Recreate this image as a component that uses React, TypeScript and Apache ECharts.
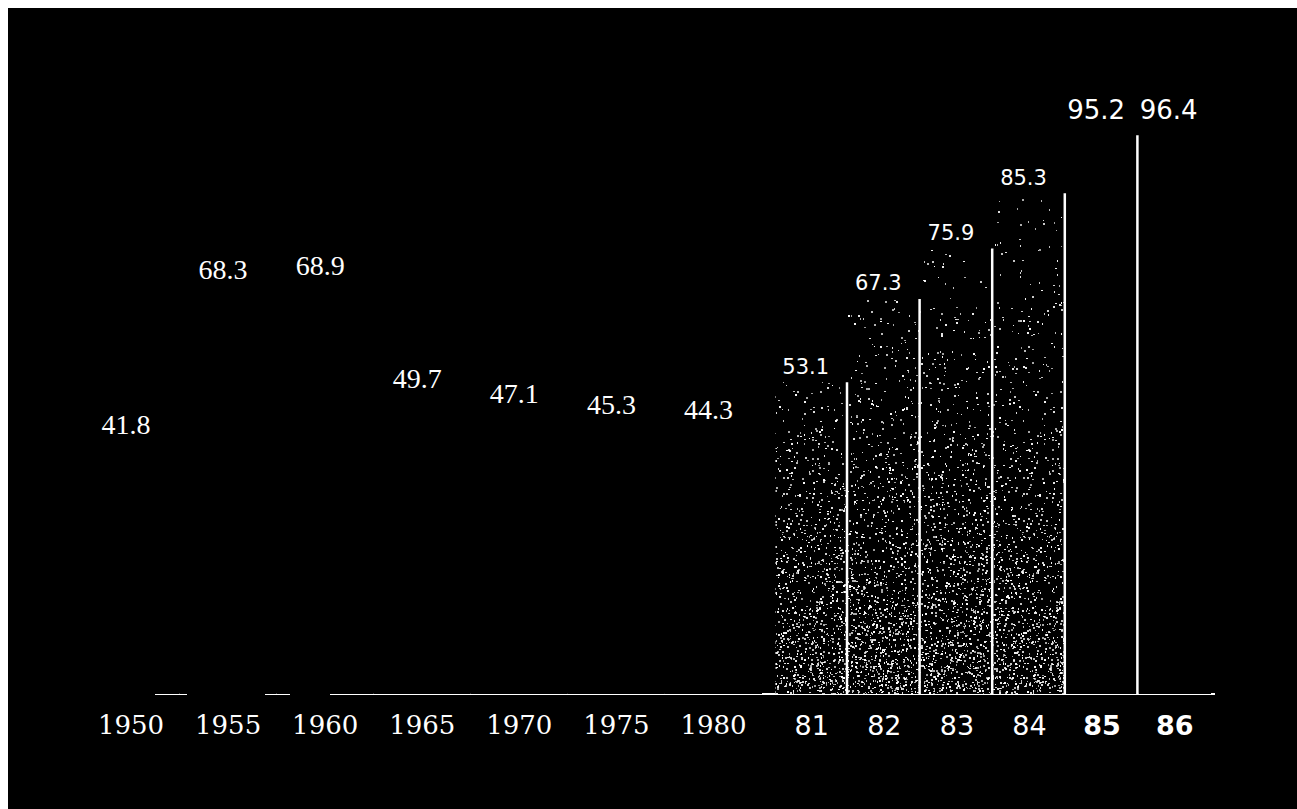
import React, { useEffect, useRef } from "react";
import * as echarts from "echarts";

// ---- data ----
const yearsEarly = ["1950", "1955", "1960", "1965", "1970", "1975", "1980"];
const valuesEarly = [41.8, 68.3, 68.9, 49.7, 47.1, 45.3, 44.3];
const yearsLate = ["81", "82", "83", "84", "85", "86"];
const valuesLate = [53.1, 67.3, 75.9, 85.3, 95.2, 96.4];

const W = 1289;
const H = 801;

// deterministic speckle texture (decoration only)
function makeSpeckle(w: number, h: number): string {
  const c = document.createElement("canvas");
  c.width = w;
  c.height = h;
  const ctx = c.getContext("2d");
  if (!ctx) return "";
  ctx.fillStyle = "#000";
  ctx.fillRect(0, 0, w, h);
  let s = 987654;
  const rnd = () => {
    s = (s * 16807) % 2147483647;
    return s / 2147483647;
  };
  for (let y = 0; y < h; y += 2) {
    const t = Math.max(0, Math.min(1, (y - 190) / 496));
    const p = 0.02 + 0.32 * Math.pow(t, 2);
    for (let x = 0; x < w; x += 2) {
      if (rnd() < p) {
        const a = 0.6 + 0.4 * rnd();
        ctx.fillStyle = `rgba(255,255,255,${a.toFixed(2)})`;
        const ox = rnd() < 0.5 ? 0 : 1;
        const oy = rnd() < 0.5 ? 0 : 1;
        ctx.fillRect(x + ox, y + oy, rnd() < 0.6 ? 2 : 1, rnd() < 0.6 ? 2 : 1);
      }
    }
  }
  return c.toDataURL();
}

export default function App() {
  const ref = useRef<HTMLDivElement>(null);

  useEffect(() => {
    if (!ref.current) return;
    const chart = echarts.init(ref.current, null, { renderer: "svg" });
    const speckle = {
      image: makeSpeckle(240, H),
      repeat: "repeat",
      imageWidth: 240,
      imageHeight: H,
    };

    const gridTop = 99;
    const gridBottom = 115;

    const lateData = valuesLate.map((v, i) => ({
      value: v,
      itemStyle: { color: i < 4 ? (speckle as any) : "#000" },
      label:
        i >= 4
          ? { fontSize: 26, distance: i === 4 ? 12 : 5 }
          : { fontSize: 21, distance: 5 },
    }));

    const option: any = {
      animation: false,
      backgroundColor: "#000",
      grid: [
        { left: 74.5, width: 679.5, top: gridTop, bottom: gridBottom },
        { left: 767.4, width: 435.6, top: gridTop, bottom: gridBottom },
      ],
      xAxis: [
        {
          type: "category",
          gridIndex: 0,
          data: yearsEarly,
          axisLine: { show: false },
          axisTick: { show: false },
          axisLabel: {
            color: "#fff",
            fontFamily: "DejaVu Serif",
            fontSize: 26,
            margin: 18,
          },
        },
        {
          type: "category",
          gridIndex: 1,
          data: yearsLate,
          axisLine: { show: false },
          axisTick: { show: false },
          axisLabel: {
            margin: 18,
            formatter: (v: string, i: number) => (i >= 4 ? `{b|${v}}` : `{n|${v}}`),
            rich: {
              n: { color: "#fff", fontFamily: "DejaVu Sans", fontSize: 27 },
              b: { color: "#fff", fontFamily: "DejaVu Sans", fontSize: 27, fontWeight: "bold" },
            },
          },
        },
      ],
      yAxis: [
        { type: "value", gridIndex: 0, min: 0, max: 100, show: false, splitLine: { show: false } },
        { type: "value", gridIndex: 1, min: 0, max: 100, show: false, splitLine: { show: false } },
      ],
      series: [
        {
          type: "bar",
          xAxisIndex: 0,
          yAxisIndex: 0,
          data: valuesEarly,
          barCategoryGap: "0%",
          itemStyle: { color: "#000" },
          label: {
            show: true,
            position: "top",
            distance: 10,
            offset: [-5, 0],
            color: "#fff",
            fontFamily: "Liberation Serif",
            fontSize: 28,
          },
        },
        {
          type: "bar",
          xAxisIndex: 1,
          yAxisIndex: 1,
          data: lateData,
          barCategoryGap: "0%",
          label: {
            show: true,
            position: "top",
            offset: [-6, 0],
            color: "#fff",
            fontFamily: "DejaVu Sans",
          },
        },
        {
          type: "custom",
          xAxisIndex: 1,
          yAxisIndex: 1,
          data: valuesLate.map((v, i) => [i, v]),
          renderItem: (params: any, api: any) => {
            const idx = api.value(0);
            if (idx >= 5) return null;
            const top = api.coord([idx, api.value(1)]);
            const base = api.coord([idx, 0]);
            const band = api.size([1, 0])[0];
            const x = top[0] + band / 2 - 1;
            return {
              type: "line",
              shape: { x1: x, y1: top[1], x2: x, y2: base[1] },
              style: { stroke: "#fff", lineWidth: 2.5 },
            };
          },
          z: 5,
        },
      ],
      graphic: [
        { type: "line", shape: { x1: 147, y1: 686, x2: 179, y2: 686 }, style: { stroke: "#fff", lineWidth: 2 } },
        { type: "line", shape: { x1: 257, y1: 686, x2: 282, y2: 686 }, style: { stroke: "#fff", lineWidth: 2 } },
        { type: "line", shape: { x1: 322, y1: 686, x2: 1207, y2: 686 }, style: { stroke: "#fff", lineWidth: 2 } },
      ],
    };
    chart.setOption(option);
    return () => chart.dispose();
  }, []);

  return (
    <div
      ref={ref}
      style={{ position: "fixed", left: 8, top: 8, width: W, height: H, background: "#000" }}
    />
  );
}
